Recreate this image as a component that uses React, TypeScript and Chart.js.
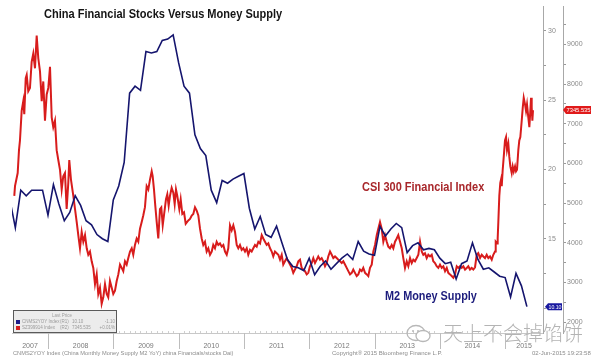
import React, { useEffect, useRef } from 'react';
import { Chart, registerables } from 'chart.js';

Chart.register(...registerables);

const FONT = "'Liberation Sans', Arial, sans-serif";

// ---------- data ----------
const yearLabels = ['2007', '2008', '2009', '2010', '2011', '2012', '2013', '2014', '2015'];

const m2Months = [
  '2007-05', '2007-06', '2007-07', '2007-08', '2007-09', '2007-10', '2007-11', '2007-12',
  '2008-01', '2008-02', '2008-03', '2008-04', '2008-05', '2008-06', '2008-07', '2008-08', '2008-09', '2008-10', '2008-11', '2008-12',
  '2009-01', '2009-02', '2009-03', '2009-04', '2009-05', '2009-06', '2009-07', '2009-08', '2009-09', '2009-10', '2009-11', '2009-12',
  '2010-01', '2010-02', '2010-03', '2010-04', '2010-05', '2010-06', '2010-07', '2010-08', '2010-09', '2010-10', '2010-11', '2010-12',
  '2011-01', '2011-02', '2011-03', '2011-04', '2011-05', '2011-06', '2011-07', '2011-08', '2011-09', '2011-10', '2011-11', '2011-12',
  '2012-01', '2012-02', '2012-03', '2012-04', '2012-05', '2012-06', '2012-07', '2012-08', '2012-09', '2012-10', '2012-11', '2012-12',
  '2013-01', '2013-02', '2013-03', '2013-04', '2013-05', '2013-06', '2013-07', '2013-08', '2013-09', '2013-10', '2013-11', '2013-12',
  '2014-01', '2014-02', '2014-03', '2014-04', '2014-05', '2014-06', '2014-07', '2014-08', '2014-09', '2014-10', '2014-11', '2014-12',
  '2015-01', '2015-02', '2015-03', '2015-04',
];
const m2Values = [
  17.8, 15.8, 18.5, 18.1, 18.5, 18.5, 18.5, 16.7,
  18.9, 17.5, 16.3, 16.9, 18.1, 17.4, 16.3, 16.0, 15.3, 15.0, 14.8, 17.8,
  18.8, 20.5, 25.5, 26.0, 25.7, 28.5, 28.4, 28.5, 29.3, 29.4, 29.7, 27.7,
  26.0, 25.5, 22.5, 21.5, 21.0, 18.5, 17.6, 19.2, 19.0, 19.3, 19.5, 19.7,
  17.2, 15.7, 16.6, 15.3, 15.1, 15.9, 14.7, 13.5, 13.0, 12.9, 12.7, 13.6,
  12.4, 13.0, 13.4, 12.8, 13.2, 13.6, 13.9, 13.5, 14.8, 14.1, 13.9, 13.8,
  15.9, 15.2, 15.7, 16.1, 15.8, 14.0, 14.5, 14.7, 14.2, 14.3, 14.2, 13.6,
  13.2, 13.3, 12.1, 13.2, 13.4, 14.7, 13.5, 12.8, 12.9, 12.6, 12.3, 12.2,
  10.8, 12.5, 11.6, 10.1,
];

const csiDates = [
  2007.484, 2007.495, 2007.536, 2007.556, 2007.571, 2007.597, 2007.622, 2007.637, 2007.659, 2007.674,
  2007.698, 2007.724, 2007.750, 2007.775, 2007.801, 2007.827, 2007.852, 2007.878, 2007.904, 2007.928,
  2007.954, 2007.980, 2008.005, 2008.031, 2008.057, 2008.081, 2008.107, 2008.133, 2008.158, 2008.184,
  2008.210, 2008.234, 2008.260, 2008.286, 2008.311, 2008.326, 2008.352, 2008.388, 2008.414, 2008.440,
  2008.464, 2008.490, 2008.516, 2008.541, 2008.567, 2008.593, 2008.617, 2008.643, 2008.669, 2008.694,
  2008.720, 2008.746, 2008.770, 2008.796, 2008.822, 2008.847, 2008.873, 2008.899, 2008.923, 2008.949,
  2008.975, 2009.000, 2009.026, 2009.052, 2009.077, 2009.103, 2009.129, 2009.153, 2009.179, 2009.205,
  2009.230, 2009.256, 2009.282, 2009.306, 2009.332, 2009.358, 2009.383, 2009.409, 2009.435, 2009.459,
  2009.485, 2009.511, 2009.536, 2009.562, 2009.588, 2009.603, 2009.623, 2009.643, 2009.665, 2009.689,
  2009.715, 2009.735, 2009.757, 2009.776, 2009.807, 2009.827, 2009.848, 2009.868, 2009.894, 2009.919,
  2009.940, 2009.960, 2009.980, 2010.011, 2010.032, 2010.057, 2010.083, 2010.109, 2010.149, 2010.175,
  2010.201, 2010.225, 2010.251, 2010.277, 2010.302, 2010.328, 2010.354, 2010.378, 2010.404, 2010.430,
  2010.455, 2010.481, 2010.507, 2010.531, 2010.557, 2010.583, 2010.608, 2010.634, 2010.660, 2010.685,
  2010.711, 2010.737, 2010.761, 2010.787, 2010.813, 2010.838, 2010.864, 2010.890, 2010.914, 2010.940,
  2010.966, 2010.991, 2011.017, 2011.043, 2011.067, 2011.093, 2011.119, 2011.144, 2011.170, 2011.196,
  2011.221, 2011.247, 2011.273, 2011.297, 2011.323, 2011.349, 2011.374, 2011.400, 2011.426, 2011.450,
  2011.476, 2011.502, 2011.527, 2011.553, 2011.579, 2011.603, 2011.629, 2011.655, 2011.680, 2011.706,
  2011.732, 2011.756, 2011.782, 2011.808, 2011.833, 2011.859, 2011.885, 2011.909, 2011.936, 2011.962,
  2011.986, 2012.012, 2012.038, 2012.063, 2012.089, 2012.115, 2012.139, 2012.165, 2012.191, 2012.216,
  2012.242, 2012.268, 2012.292, 2012.319, 2012.345, 2012.369, 2012.395, 2012.421, 2012.446, 2012.472,
  2012.498, 2012.522, 2012.548, 2012.574, 2012.599, 2012.625, 2012.651, 2012.675, 2012.701, 2012.727,
  2012.752, 2012.778, 2012.804, 2012.828, 2012.855, 2012.881, 2012.905, 2012.931, 2012.957, 2012.982,
  2013.008, 2013.034, 2013.058, 2013.084, 2013.110, 2013.135, 2013.161, 2013.187, 2013.211, 2013.237,
  2013.263, 2013.288, 2013.314, 2013.340, 2013.364, 2013.391, 2013.417, 2013.441, 2013.467, 2013.493,
  2013.518, 2013.544, 2013.570, 2013.594, 2013.620, 2013.646, 2013.671, 2013.697, 2013.723, 2013.747,
  2013.773, 2013.799, 2013.824, 2013.850, 2013.876, 2013.900, 2013.926, 2013.952, 2013.977, 2014.003,
  2014.029, 2014.054, 2014.080, 2014.106, 2014.130, 2014.156, 2014.182, 2014.207, 2014.233, 2014.259,
  2014.283, 2014.309, 2014.335, 2014.360, 2014.386, 2014.412, 2014.436, 2014.462, 2014.488, 2014.513,
  2014.539, 2014.565, 2014.589, 2014.616, 2014.642, 2014.666, 2014.692, 2014.718, 2014.743, 2014.769,
  2014.795, 2014.819, 2014.845, 2014.856, 2014.876, 2014.886, 2014.896, 2014.911, 2014.926, 2014.937,
  2014.948, 2014.963, 2014.979, 2014.998, 2015.014, 2015.029, 2015.049, 2015.064, 2015.080, 2015.101,
  2015.116, 2015.132, 2015.152, 2015.167, 2015.182, 2015.202, 2015.217, 2015.233, 2015.254, 2015.270,
  2015.285, 2015.305, 2015.320, 2015.335, 2015.355, 2015.371, 2015.386, 2015.397, 2015.407, 2015.417,
  2015.427,
];
const csiValues = [
  5184, 5431, 5760, 6337, 6584, 7326, 7573, 7244, 8152, 8233,
  7820, 7904, 8562, 8770, 8399, 9222, 8646, 8315, 7573, 8068,
  7078, 7739, 7904, 8439, 7163, 6915, 7078, 6337, 6089, 5842,
  5347, 5679, 5760, 4853, 5513, 6089, 5595, 5184, 4853, 4524,
  4195, 3864, 4277, 4029, 4195, 3864, 3700, 3782, 3535, 3369,
  2958, 3206, 2711, 2874, 2464, 2627, 2958, 2711, 2627, 3040,
  2874, 2711, 2793, 3040, 3206, 3453, 3369, 3287, 3535, 3453,
  3617, 3782, 3864, 3700, 3948, 4111, 4029, 4358, 4524, 4690,
  4900, 5431, 5347, 5595, 5802, 5679, 5347, 4937, 4524, 4111,
  4853, 4895, 4442, 4690, 5100, 5224, 4937, 5184, 5389, 5266,
  4976, 5347, 5184, 4853, 5100, 4729, 4771, 4482, 4566, 4605,
  4690, 4729, 4895, 4813, 4690, 4358, 4111, 3948, 4029, 3782,
  3864, 3700, 3782, 3948, 3864, 4029, 3948, 3987, 3906, 3948,
  3782, 3700, 3864, 4442, 4318, 4442, 4277, 3948, 3864, 3948,
  3824, 3864, 3782, 3864, 3700, 3824, 3782, 3864, 3948, 3906,
  4029, 3987, 4195, 4111, 4029, 3948, 3987, 3864, 3782, 3658,
  3782, 3740, 3700, 3577, 3700, 3453, 3535, 3617, 3535, 3453,
  3369, 3245, 3329, 3411, 3535, 3577, 3369, 3329, 3287, 3206,
  3245, 3411, 3493, 3617, 3493, 3577, 3658, 3577, 3617, 3535,
  3411, 3493, 3658, 3782, 3700, 3617, 3658, 3617, 3577, 3535,
  3493, 3535, 3453, 3369, 3287, 3206, 3245, 3329, 3245, 3164,
  3206, 3329, 3287, 3369, 3245, 3206, 3164, 3369, 3453, 3782,
  3948, 4195, 4358, 4524, 4358, 4029, 4195, 4029, 3906, 3864,
  3948, 3864, 4029, 4111, 4195, 4029, 3864, 3617, 3369, 3535,
  3411, 3617, 3493, 3577, 3535, 3617, 3700, 4029, 3782, 3700,
  3740, 3617, 3700, 3658, 3700, 3535, 3493, 3411, 3369, 3453,
  3369, 3411, 3287, 3369, 3245, 3206, 3164, 3122, 3206, 3411,
  3369, 3411, 3369, 3411, 3329, 3369, 3411, 3329, 3369, 3329,
  3386, 3700, 3740, 3617, 3700, 3658, 3617, 3700, 3617, 3658,
  3577, 3700, 3782, 4029, 3987, 4111, 4524, 5184, 5513, 5595,
  5431, 5842, 6173, 6584, 6668, 6337, 6502, 6173, 5926, 5760,
  5926, 5802, 5926, 5802, 5842, 6337, 6584, 6668, 7078, 7410,
  7657, 7491, 7326, 7491, 7163, 6915, 7326, 7657, 7410, 7078,
  7345.535,
];

const m2TickLabels = [15, 20, 25, 30];
const csiTickLabels = [2000, 3000, 4000, 5000, 6000, 7000, 8000, 9000];

const legendRows = [
  { name: 'CNMS2YOY Index', axis: '(R1)', last: '10.10', chg: '-1.10', color: '#1c1c8a' },
  { name: 'SZ399914 Index', axis: '(R2)', last: '7345.535', chg: '+0.01%', color: '#d42020' },
];
const m2LastLabel = '10.10';
const csiLastLabel = '7345.535';

// ---------- axis ranges ----------
const T_MIN = 2007.449;
const T_MAX = 2015.58;
const M2_MIN = 8.2;
const M2_MAX = 31.77;
const CSI_MIN = 1729;
const CSI_MAX = 9964;

const RED = '#d81c1c';
const NAVY = '#15156e';

function monthToYear(s: string) {
  const [y, m] = s.split('-').map(Number);
  return y + m / 12;
}

function labelPositions() {
  return yearLabels.map((ys) => {
    const y = Number(ys);
    const lo = Math.max(y, T_MIN);
    const hi = Math.min(y + 1, T_MAX);
    return (lo + hi) / 2;
  });
}

function drawTag(ctx: CanvasRenderingContext2D, x: number, y: number, w: number, h: number, fill: string, text: string) {
  ctx.beginPath();
  ctx.moveTo(x, y);
  ctx.lineTo(x + 3, y - h / 2);
  ctx.lineTo(x + w, y - h / 2);
  ctx.lineTo(x + w, y + h / 2);
  ctx.lineTo(x + 3, y + h / 2);
  ctx.closePath();
  ctx.fillStyle = fill;
  ctx.fill();
  ctx.fillStyle = '#ffffff';
  ctx.font = `6px ${FONT}`;
  ctx.textAlign = 'center';
  ctx.textBaseline = 'middle';
  ctx.fillText(text, x + 3 + (w - 3) / 2, y + 0.5, w - 4);
}

const decorPlugin = {
  id: 'decor',
  afterDraw(chart: any) {
    const { ctx, chartArea, scales } = chart;
    const xs = scales.x;
    ctx.save();
    // month ticks + year dividers
    ctx.lineWidth = 1;
    for (let y = 2007; y <= 2015; y++) {
      for (let m = 0; m < 12; m++) {
        const t = y + m / 12;
        if (t <= xs.min || t >= xs.max) continue;
        const px = Math.round(xs.getPixelForValue(t)) + 0.5;
        ctx.beginPath();
        if (m === 0) {
          ctx.strokeStyle = '#bdbdbd';
          ctx.moveTo(px, chartArea.bottom);
          ctx.lineTo(px, chartArea.bottom + 16);
        } else {
          ctx.strokeStyle = '#cfcfcf';
          ctx.moveTo(px, chartArea.bottom - 2);
          ctx.lineTo(px, chartArea.bottom);
        }
        ctx.stroke();
      }
    }

    // legend box
    const bx = 13.5, by = 310.5, bw = 103, bh = 22;
    ctx.fillStyle = '#ececec';
    ctx.fillRect(bx, by, bw, bh);
    ctx.strokeStyle = '#5a5a5a';
    ctx.strokeRect(bx, by, bw, bh);
    ctx.fillStyle = '#a0a0a0';
    ctx.font = `4.5px ${FONT}`;
    ctx.textAlign = 'center';
    ctx.textBaseline = 'middle';
    ctx.fillText('Last Price', 62, 316);
    legendRows.forEach((r, i) => {
      const ry = 322 + i * 6;
      ctx.fillStyle = r.color;
      ctx.fillRect(16, ry - 2, 4, 4);
      ctx.fillStyle = '#9a9a9a';
      ctx.textAlign = 'left';
      ctx.fillText(r.name, 22, ry);
      ctx.fillText(r.axis, 60, ry);
      ctx.fillText(r.last, 72, ry);
      ctx.textAlign = 'right';
      ctx.fillText(r.chg, 115, ry);
    });

    // last-value tags
    const y1 = scales.y1;
    const y2 = scales.y2;
    const csiY = y2.getPixelForValue(csiValues[csiValues.length - 1]);
    drawTag(ctx, y2.left, csiY, 28, 8, '#e01a1a', csiLastLabel);
    const m2Y = y1.getPixelForValue(m2Values[m2Values.length - 1]);
    drawTag(ctx, y1.left + 2, m2Y, 17, 7, '#1a1aa0', m2LastLabel);
    ctx.restore();
  },
};

export default function App() {
  const ref = useRef<HTMLCanvasElement | null>(null);

  useEffect(() => {
    if (!ref.current) return;
    const m2Data = m2Months.map((m, i) => ({ x: monthToYear(m), y: m2Values[i] }));
    const csiData = csiDates.map((t, i) => ({ x: t, y: csiValues[i] }));
    const lblPos = labelPositions();

    const chart = new Chart(ref.current, {
      type: 'line',
      data: {
        datasets: [
          {
            label: 'CSI 300 Financial Index',
            data: csiData,
            yAxisID: 'y2',
            borderColor: RED,
            borderWidth: 2,
            pointRadius: 0,
            tension: 0,
            clip: 0,
            order: 2,
          },
          {
            label: 'M2 Money Supply',
            data: m2Data,
            yAxisID: 'y1',
            borderColor: NAVY,
            borderWidth: 1.6,
            pointRadius: 0,
            tension: 0,
            clip: 0,
            order: 1,
          },
        ],
      },
      options: {
        responsive: false,
        animation: false,
        events: [],
        layout: { padding: { left: 12, top: 0, right: 0, bottom: 0 } },
        plugins: { legend: { display: false }, tooltip: { enabled: false }, title: { display: false } },
        scales: {
          x: {
            type: 'linear',
            min: T_MIN,
            max: T_MAX,
            position: 'bottom',
            afterBuildTicks: (s: any) => {
              s.ticks = lblPos.map((v) => ({ value: v }));
            },
            afterFit: (s: any) => {
              s.height = 31;
            },
            ticks: {
              autoSkip: false,
              maxRotation: 0,
              padding: 9,
              color: '#7a7a7a',
              font: { size: 7, family: FONT },
              callback: (_v: any, i: number) => yearLabels[i],
            },
            grid: { display: true, drawOnChartArea: false, drawTicks: false, color: 'rgba(0,0,0,0)' },
            border: { display: true, color: '#c8c8c8', width: 1 },
          },
          y1: {
            type: 'linear',
            position: 'right',
            weight: 0,
            min: M2_MIN,
            max: M2_MAX,
            afterBuildTicks: (s: any) => {
              const t = [];
              for (let v = 10; v <= 30; v += 2.5) t.push({ value: v });
              s.ticks = t;
            },
            afterFit: (s: any) => {
              s.width = 20;
            },
            ticks: {
              padding: 2,
              color: '#8a8a8a',
              font: { size: 7, family: FONT },
              callback: (v: any) => (m2TickLabels.includes(Number(v)) ? String(v) : ''),
            },
            grid: { drawOnChartArea: false, drawTicks: true, tickLength: 3, color: '#9a9a9a' },
            border: { display: true, color: '#a8a8a8', width: 1 },
          },
          y2: {
            type: 'linear',
            position: 'right',
            weight: 1,
            min: CSI_MIN,
            max: CSI_MAX,
            afterBuildTicks: (s: any) => {
              const t = [];
              for (let v = 2000; v <= 9500; v += 500) t.push({ value: v });
              s.ticks = t;
            },
            afterFit: (s: any) => {
              s.width = 37;
            },
            ticks: {
              padding: 1,
              color: '#8a8a8a',
              font: { size: 7, family: FONT },
              callback: (v: any) => (csiTickLabels.includes(Number(v)) ? String(v) : ''),
            },
            grid: { drawOnChartArea: false, drawTicks: true, tickLength: 3, color: '#9a9a9a' },
            border: { display: true, color: '#a8a8a8', width: 1 },
          },
        },
      } as any,
      plugins: [decorPlugin],
    });
    return () => chart.destroy();
  }, []);

  const narrow = (scale: number): React.CSSProperties => ({
    transform: `scaleX(${scale})`,
    transformOrigin: 'left top',
    whiteSpace: 'nowrap',
  });

  return (
    <div style={{ position: 'fixed', left: 0, top: 0, width: 600, height: 364, background: '#ffffff', overflow: 'hidden' }}>
      <canvas ref={ref} width={600} height={364} style={{ position: 'absolute', left: 0, top: 0, width: 600, height: 364 }} />
      <div style={{ position: 'absolute', left: 44, top: 7.3, fontFamily: FONT, fontWeight: 700, fontSize: 13, lineHeight: 1, color: '#141414', ...narrow(0.85) }}>
        China Financial Stocks Versus Money Supply
      </div>
      <div style={{ position: 'absolute', left: 362, top: 181, fontFamily: FONT, fontWeight: 700, fontSize: 12.5, lineHeight: 1, color: '#a8272b', ...narrow(0.88) }}>
        CSI 300 Financial Index
      </div>
      <div style={{ position: 'absolute', left: 385, top: 290, fontFamily: FONT, fontWeight: 700, fontSize: 12.5, lineHeight: 1, color: '#1c1c7c', ...narrow(0.87) }}>
        M2 Money Supply
      </div>
      <svg style={{ position: 'absolute', left: 405, top: 324 }} width={28} height={20} viewBox="0 0 28 20">
        <ellipse cx={11} cy={9} rx={9} ry={7.5} fill="none" stroke="#b8b8b8" strokeWidth={1.3} />
        <ellipse cx={18} cy={12} rx={7} ry={5.5} fill="#ffffff" stroke="#b8b8b8" strokeWidth={1.3} />
        <circle cx={8} cy={7} r={1} fill="#b8b8b8" />
        <circle cx={13} cy={7} r={1} fill="#b8b8b8" />
      </svg>
      <div style={{ position: 'absolute', left: 443, top: 323, fontFamily: "'Noto Sans CJK SC', sans-serif", fontWeight: 300, fontSize: 20, lineHeight: 1, color: '#b4b4b4', whiteSpace: 'nowrap' }}>
        天上不会掉馅饼
      </div>
      <div style={{ position: 'absolute', left: 13, top: 350, fontFamily: FONT, fontSize: 6, lineHeight: 1, color: '#8c8c8c', ...narrow(0.95) }}>
        CNMS2YOY Index (China Monthly Money Supply M2 YoY) china Financials/stocks Dai)
      </div>
      <div style={{ position: 'absolute', left: 332, top: 350, fontFamily: FONT, fontSize: 6, lineHeight: 1, color: '#8c8c8c', whiteSpace: 'nowrap' }}>
        Copyright® 2015 Bloomberg Finance L.P.
      </div>
      <div style={{ position: 'absolute', left: 532, top: 350, fontFamily: FONT, fontSize: 6, lineHeight: 1, color: '#8c8c8c', whiteSpace: 'nowrap' }}>
        02-Jun-2015 19:23:58
      </div>
    </div>
  );
}
